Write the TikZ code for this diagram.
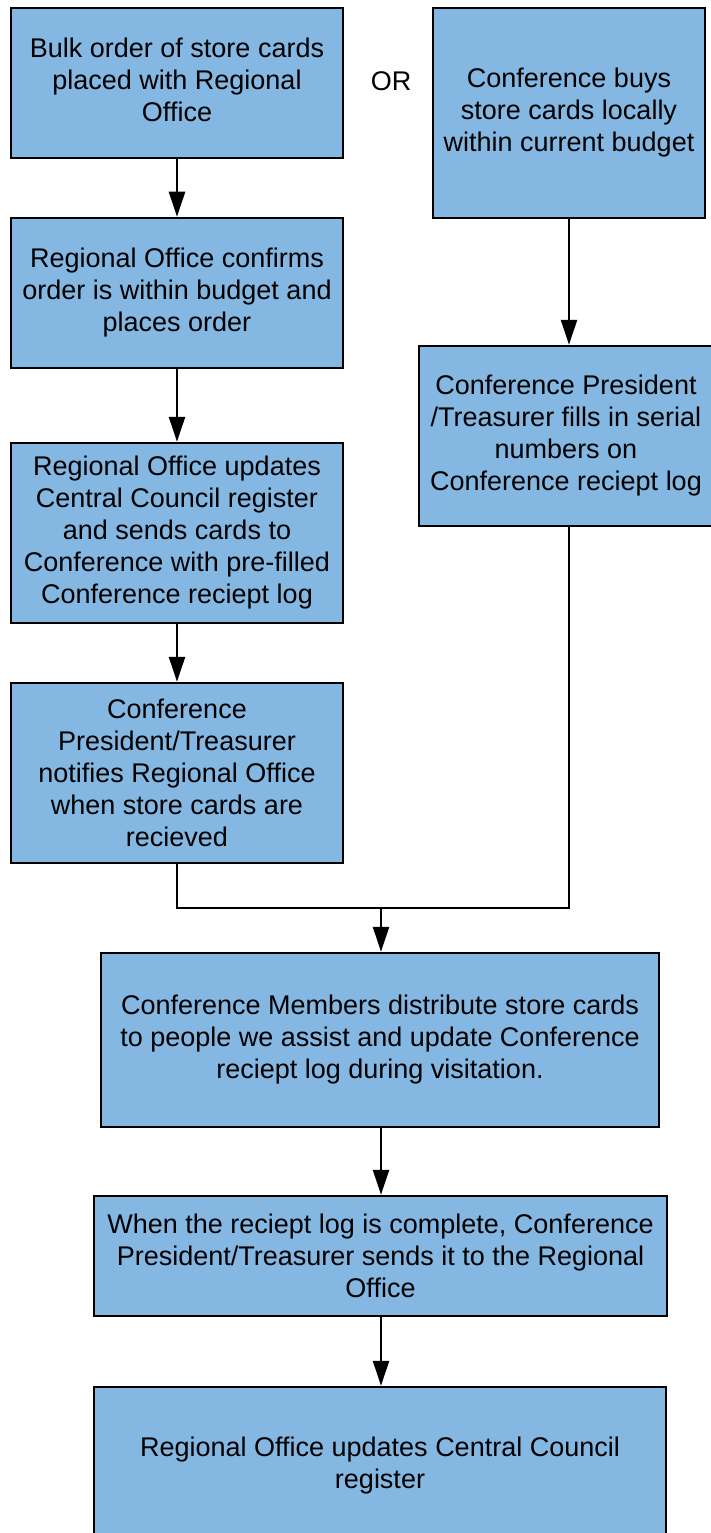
\documentclass[tikz,border=0pt]{standalone}
\usepackage{fontspec}
\setmainfont{Liberation Sans}
\usetikzlibrary{arrows.meta}
\definecolor{boxblue}{RGB}{132,184,226}
\tikzset{
  flowbox/.style={draw=black, line width=2.5pt, fill=boxblue, align=center, inner sep=0pt,
    font=\fontsize{27}{32}\selectfont},
  flowarrow/.style={draw=black, line width=2.5pt, -{Triangle[length=25pt,width=16pt]}},
  flowline/.style={draw=black, line width=2.5pt},
  ortext/.style={font=\fontsize{27}{32}\selectfont, inner sep=0pt},
}
\begin{document}
\begin{tikzpicture}[x=1pt,y=-1pt]
\useasboundingbox (0,0) rectangle (711,1533);
\clip (0,0) rectangle (711,1533);
\node[flowbox, minimum width=332pt, minimum height=150pt] (b1) at (177,83)
  {Bulk order of store cards\\placed with Regional\\Office\vphantom{g}};
\node[ortext] (or) at (391,81) {OR};
\node[flowbox, minimum width=272pt, minimum height=210pt] (r1) at (569,113)
  {Conference buys\\store cards locally\\within current budget};
\node[flowbox, minimum width=332pt, minimum height=150pt] (b2) at (177,293)
  {Regional Office confirms\\order is within budget and\\places order};
\node[flowbox, minimum width=294pt, minimum height=180pt] (r2) at (566,436)
  {Conference President\\/Treasurer fills in serial\\numbers on\\Conference reciept log};
\node[flowbox, minimum width=332pt, minimum height=180pt] (b3) at (177,533)
  {Regional Office updates\\Central Council register\\and sends cards to\\Conference with pre-filled\\Conference reciept log};
\node[flowbox, minimum width=332pt, minimum height=180pt] (b4) at (177,773)
  {Conference\\President/Treasurer\\notifies Regional Office\\when store cards are\\recieved};
\node[flowbox, minimum width=558pt, minimum height=174pt] (b5) at (380,1040)
  {Conference Members distribute store cards\\to people we assist and update Conference\\reciept log during visitation.};
\node[flowbox, minimum width=573pt, minimum height=120pt] (b6) at (380.5,1256)
  {When the reciept log is complete, Conference\\President/Treasurer sends it to the Regional\\Office};
\node[flowbox, minimum width=572pt, minimum height=158pt] (b7) at (380,1466)
  {Regional Office updates Central Council\\register};
\coordinate (m) at (381,908);
\draw[flowarrow] (b1.south) -- (b2.north);
\draw[flowarrow] (b2.south) -- (b3.north);
\draw[flowarrow] (b3.south) -- (b4.north);
\draw[flowarrow] (r1.south) -- (r1.south |- r2.north);
\draw[flowline] (b4.south) |- (m);
\draw[flowline] (r1.south |- r2.south) |- (m);
\draw[flowarrow] (m) -- (m |- b5.north);
\draw[flowarrow] (b5.south -| m) -- (m |- b6.north);
\draw[flowarrow] (b6.south -| m) -- (m |- b7.north);
\end{tikzpicture}
\end{document}
